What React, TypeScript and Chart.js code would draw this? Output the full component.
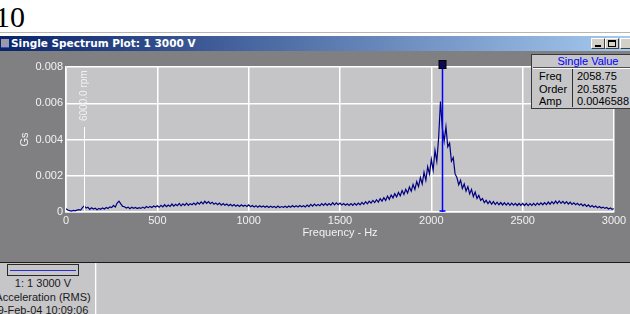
import React, { useEffect, useRef } from "react";
import { Chart, registerables } from "chart.js";

Chart.register(...registerables);

// ---- data ----
const FREQ_START = 0; // Hz, first spectral line
const FREQ_STEP = 10; // Hz between spectral lines
const AMPLITUDE: number[] = [
  0.00018, 0.00011, 0.00008, 0.00005, 0.00009, 0.00006, 0.0001, 0.00013, 0.00011, 0.00024,
  0.00034, 0.00022, 0.00026, 0.00014, 0.00023, 0.00016, 0.00021, 0.00013, 0.0002, 0.00015,
  0.00022, 0.00017, 0.00025, 0.00019, 0.00028, 0.00024, 0.00036, 0.00027, 0.00049, 0.0006,
  0.00045, 0.00031, 0.00029, 0.00022, 0.00027, 0.00018, 0.00026, 0.0002, 0.00025, 0.00019,
  0.00024, 0.0002, 0.00027, 0.00021, 0.0003, 0.00024, 0.00031, 0.00025, 0.00033, 0.00027,
  0.00034, 0.00026, 0.00037, 0.00028, 0.0004, 0.0003, 0.00039, 0.00031, 0.00044, 0.00032,
  0.00042, 0.00035, 0.00047, 0.00034, 0.00045, 0.00036, 0.00049, 0.00037, 0.00046, 0.0004,
  0.00049, 0.0004, 0.00053, 0.00043, 0.00056, 0.00045, 0.00059, 0.00047, 0.00057, 0.00046,
  0.00054, 0.00043, 0.0005, 0.0004, 0.00049, 0.00038, 0.00047, 0.00037, 0.00044, 0.00035,
  0.00042, 0.00033, 0.00041, 0.00032, 0.00039, 0.00031, 0.0004, 0.00032, 0.00038, 0.0003,
  0.00039, 0.00029, 0.00036, 0.00028, 0.00035, 0.00026, 0.00034, 0.00027, 0.00033, 0.00026,
  0.00033, 0.00025, 0.00032, 0.00026, 0.00031, 0.00024, 0.00033, 0.00025, 0.0003, 0.00026,
  0.00032, 0.00025, 0.00033, 0.00026, 0.00035, 0.00027, 0.00034, 0.00028, 0.00036, 0.00029,
  0.00035, 0.00028, 0.00038, 0.0003, 0.00042, 0.00032, 0.00044, 0.00034, 0.00041, 0.00035,
  0.00046, 0.00036, 0.00048, 0.00037, 0.00047, 0.00038, 0.00051, 0.00039, 0.0005, 0.0004,
  0.00049, 0.00039, 0.00047, 0.00037, 0.00045, 0.00036, 0.00046, 0.00037, 0.00048, 0.00038,
  0.00049, 0.0004, 0.00053, 0.00042, 0.00057, 0.00045, 0.0006, 0.00049, 0.00064, 0.00052,
  0.00068, 0.00055, 0.00074, 0.0006, 0.00079, 0.00064, 0.00088, 0.0007, 0.00094, 0.00078,
  0.00101, 0.00083, 0.00108, 0.0009, 0.00118, 0.00097, 0.00125, 0.00104, 0.00138, 0.00115,
  0.00152, 0.00125, 0.00168, 0.0014, 0.0019, 0.00155, 0.0022, 0.00175, 0.0025, 0.0021,
  0.0029, 0.0023, 0.0034, 0.0028, 0.0041, 0.0061, 0.00466, 0.0039, 0.0047, 0.0036,
  0.0038, 0.0028, 0.003, 0.0021, 0.0019, 0.0015, 0.00175, 0.0013, 0.00155, 0.00115,
  0.0014, 0.001, 0.00125, 0.00085, 0.0011, 0.00075, 0.00092, 0.00064, 0.00074, 0.00052,
  0.00064, 0.00046, 0.0006, 0.00043, 0.00057, 0.00041, 0.00054, 0.0004, 0.00052, 0.00039,
  0.00051, 0.00038, 0.0005, 0.00037, 0.00049, 0.00038, 0.00048, 0.00036, 0.00047, 0.00037,
  0.00048, 0.00036, 0.00047, 0.00035, 0.00046, 0.00036, 0.00048, 0.00037, 0.00049, 0.00039,
  0.0005, 0.0004, 0.00052, 0.00041, 0.00055, 0.00043, 0.00057, 0.00045, 0.0006, 0.00047,
  0.00061, 0.00048, 0.00059, 0.00046, 0.00057, 0.00044, 0.00054, 0.00042, 0.00051, 0.0004,
  0.00048, 0.00037, 0.00045, 0.00034, 0.00042, 0.00031, 0.00039, 0.00028, 0.00036, 0.00026,
  0.00033, 0.00024, 0.0003, 0.00022, 0.00027, 0.0002, 0.00025, 0.00017, 0.00022, 0.00015,
  0.00018,
];

const X_MIN = 0;
const X_MAX = 3000;
const X_STEP = 500;
const Y_MIN = 0;
const Y_MAX = 0.008;
const Y_STEP = 0.002;

const CURSOR_FREQ = 2058.75;
const CURSOR_ORDER = "20.5875";
const CURSOR_AMP = "0.0046588";
const RPM_FREQ = 100;
const RPM_LABEL = "6000.0 rpm";

const WINDOW_TITLE = "Single Spectrum Plot: 1 3000 V";
const X_TITLE = "Frequency - Hz";
const Y_TITLE = "Gs";
const LEGEND_LINES = ["1: 1 3000 V", "Acceleration (RMS)", "9-Feb-04 10:09:06"];
const PAGE_NUMBER = "10";

// ---- styles ----
const FONT = '"Liberation Sans", Arial, sans-serif';
const PANEL_GRAY = "#807f82";
const PLOT_BG = "#c5c4c7";
const LIGHT_PANEL = "#c6c5c8";
const LINE_COLOR = "#000080";
const TEXT_LIGHT = "#f2f2f2";

const overlayPlugin = {
  id: "spectrumOverlay",
  beforeDraw(chart: any) {
    const { ctx, chartArea: a } = chart;
    ctx.save();
    ctx.fillStyle = PLOT_BG;
    ctx.fillRect(a.left, a.top, a.right - a.left, a.bottom - a.top);
    ctx.restore();
  },
  afterDatasetsDraw(chart: any) {
    const { ctx, chartArea: a, scales } = chart;
    // rpm marker
    const rx = Math.round(scales.x.getPixelForValue(RPM_FREQ)) + 0.5;
    ctx.save();
    ctx.strokeStyle = "#ffffff";
    ctx.lineWidth = 1;
    ctx.beginPath();
    ctx.moveTo(rx, a.top + 60);
    ctx.lineTo(rx, a.bottom);
    ctx.stroke();
    ctx.translate(rx, a.top + 54);
    ctx.rotate(-Math.PI / 2);
    ctx.fillStyle = TEXT_LIGHT;
    ctx.font = `10px ${FONT}`;
    ctx.textAlign = "left";
    ctx.textBaseline = "middle";
    ctx.fillText(RPM_LABEL, 0, 0);
    ctx.restore();

    // cursor
    const cx = Math.round(scales.x.getPixelForValue(CURSOR_FREQ)) + 0.5;
    ctx.save();
    ctx.strokeStyle = "#0000ff";
    ctx.lineWidth = 1.5;
    ctx.beginPath();
    ctx.moveTo(cx, a.top - 2);
    ctx.lineTo(cx, a.bottom);
    ctx.stroke();
    ctx.beginPath();
    ctx.moveTo(cx - 3, a.bottom - 1);
    ctx.lineTo(cx + 3, a.bottom - 1);
    ctx.stroke();
    ctx.fillStyle = "#0a0a55";
    ctx.strokeStyle = "#000000";
    ctx.lineWidth = 1;
    ctx.fillRect(cx - 3.5, a.top - 6.5, 7, 8);
    ctx.strokeRect(cx - 3.5, a.top - 6.5, 7, 8);
    ctx.restore();
  },
};

export default function App() {
  const canvasRef = useRef<HTMLCanvasElement>(null);

  useEffect(() => {
    const points = AMPLITUDE.map((v, i) => ({ x: FREQ_START + i * FREQ_STEP, y: v }));
    const tickFont = { family: FONT, size: 11 };
    const chart = new Chart(canvasRef.current as HTMLCanvasElement, {
      type: "line",
      data: {
        datasets: [
          {
            data: points,
            borderColor: LINE_COLOR,
            borderWidth: 1.2,
            pointRadius: 0,
            fill: false,
            tension: 0,
          },
        ],
      },
      options: {
        responsive: false,
        animation: false,
        layout: { padding: { top: 16, right: 16, left: 0, bottom: 0 } },
        plugins: { legend: { display: false }, tooltip: { enabled: false } },
        scales: {
          x: {
            type: "linear",
            min: X_MIN,
            max: X_MAX,
            ticks: {
              stepSize: X_STEP,
              color: TEXT_LIGHT,
              font: tickFont,
              padding: 2,
              maxRotation: 0,
              autoSkip: false,
              callback: (v: any) => String(v),
            },
            grid: { color: "#ffffff", lineWidth: 1.5, drawTicks: false },
            border: { color: "#ffffff", width: 1.5 },
            title: {
              display: true,
              text: X_TITLE,
              color: TEXT_LIGHT,
              font: tickFont,
              padding: { top: 0, bottom: 22 },
            },
            afterFit(scale: any) {
              scale.height = 50;
            },
          },
          y: {
            type: "linear",
            min: Y_MIN,
            max: Y_MAX,
            ticks: {
              stepSize: Y_STEP,
              color: TEXT_LIGHT,
              font: tickFont,
              padding: 3,
              callback: (v: any) => (Number(v) === 0 ? "0" : Number(v).toFixed(3)),
            },
            grid: { color: "#ffffff", lineWidth: 1.5, drawTicks: false },
            border: { color: "#ffffff", width: 1.5 },
            title: {
              display: true,
              text: Y_TITLE,
              color: TEXT_LIGHT,
              font: tickFont,
              padding: { top: 18, bottom: 0 },
            },
            afterFit(scale: any) {
              scale.width = 66;
            },
          },
        },
      } as any,
      plugins: [overlayPlugin],
    });
    return () => chart.destroy();
  }, []);

  const btn = (left: number, content: React.ReactNode) => (
    <div
      style={{
        position: "absolute",
        left,
        top: 38,
        width: 14,
        height: 11,
        background: "#d4d0c8",
        borderTop: "1px solid #ffffff",
        borderLeft: "1px solid #ffffff",
        borderRight: "1px solid #404040",
        borderBottom: "1px solid #404040",
        boxSizing: "border-box",
      }}
    >
      {content}
    </div>
  );

  return (
    <div
      style={{
        position: "fixed",
        left: 0,
        top: 0,
        width: 630,
        height: 314,
        overflow: "hidden",
        background: "#ffffff",
        fontFamily: FONT,
      }}
    >
      <div
        style={{
          position: "absolute",
          left: -5,
          top: 2,
          fontFamily: '"Liberation Serif", "Times New Roman", serif',
          fontSize: 30,
          lineHeight: "30px",
          color: "#000",
        }}
      >
        {PAGE_NUMBER}
      </div>
      <div style={{ position: "absolute", left: 0, top: 32, width: 630, height: 1, background: "#b8b6b0" }} />
      {/* title bar */}
      <div
        style={{
          position: "absolute",
          left: 0,
          top: 36,
          width: 630,
          height: 15,
          background: "linear-gradient(to right, #0a246a, #a6caf0)",
        }}
      >
        <div
          style={{
            position: "absolute",
            left: 1,
            top: 3,
            width: 8,
            height: 9,
            background: "#9a9aa8",
            borderBottom: "1px solid #3050c0",
            boxSizing: "border-box",
          }}
        />
        <div
          style={{
            position: "absolute",
            left: 11,
            top: 0,
            lineHeight: "15px",
            fontFamily: '"DejaVu Sans", Verdana, sans-serif',
            fontWeight: "bold",
            fontSize: 10.5,
            color: "#ffffff",
            whiteSpace: "nowrap",
          }}
        >
          {WINDOW_TITLE}
        </div>
      </div>
      {btn(591, <div style={{ position: "absolute", left: 3, top: 6, width: 6, height: 2, background: "#000" }} />)}
      {btn(605, <div style={{ position: "absolute", left: 2, top: 1, width: 8, height: 7, border: "1px solid #000", borderTop: "2px solid #000", boxSizing: "border-box" }} />)}
      {btn(620, null)}
      {/* chart panel */}
      <div style={{ position: "absolute", left: 0, top: 51, width: 630, height: 211, background: PANEL_GRAY }}>
        <canvas ref={canvasRef} width={630} height={211} style={{ display: "block", width: 630, height: 211 }} />
      </div>
      {/* single value box */}
      <div
        style={{
          position: "absolute",
          left: 531,
          top: 54,
          width: 114,
          height: 55,
          background: LIGHT_PANEL,
          border: "1px solid #3a3a3a",
          boxSizing: "border-box",
          fontSize: 11,
          color: "#000",
        }}
      >
        <div style={{ position: "absolute", left: 0, top: 0, width: 112, height: 12, lineHeight: "12px", textAlign: "center", color: "#0000ff" }}>
          Single Value
        </div>
        <div style={{ position: "absolute", left: 1, top: 12, width: 110, height: 1, background: "#505050" }} />
        <div style={{ position: "absolute", left: 1, top: 13, width: 110, height: 1, background: "#ffffff" }} />
        <div style={{ position: "absolute", left: 40, top: 14, width: 1, height: 38, background: "#303030" }} />
        {[
          ["Freq", CURSOR_FREQ.toFixed(2)],
          ["Order", CURSOR_ORDER],
          ["Amp", CURSOR_AMP],
        ].map(([label, value], i) => (
          <React.Fragment key={label}>
            <div style={{ position: "absolute", left: 7, top: 15 + i * 12.5, lineHeight: "12px" }}>{label}</div>
            <div style={{ position: "absolute", left: 45, top: 15 + i * 12.5, lineHeight: "12px" }}>{value}</div>
          </React.Fragment>
        ))}
      </div>
      {/* bottom legend panel */}
      <div style={{ position: "absolute", left: 0, top: 262, width: 630, height: 52, background: LIGHT_PANEL }}>
        <div style={{ position: "absolute", left: 0, top: 0, width: 630, height: 1, background: "#1c1c1c" }} />
        <div style={{ position: "absolute", left: 95, top: 1, width: 1, height: 51, background: "#ffffff" }} />
        <div style={{ position: "absolute", left: 96, top: 1, width: 1, height: 51, background: "#d8d8da" }} />
        <div
          style={{
            position: "absolute",
            left: 7,
            top: 2,
            width: 72,
            height: 12,
            border: "1px solid #2a2a2a",
            boxSizing: "border-box",
          }}
        >
          <div style={{ position: "absolute", left: 2, top: 5, width: 66, height: 1, background: "#2e2ecc" }} />
        </div>
        {LEGEND_LINES.map((t, i) => (
          <div
            key={t}
            style={{
              position: "absolute",
              left: -17,
              width: 120,
              top: 14 + i * 13.5,
              lineHeight: "14px",
              textAlign: "center",
              fontSize: 11,
              color: "#1a1a1a",
              whiteSpace: "nowrap",
            }}
          >
            {t}
          </div>
        ))}
      </div>
    </div>
  );
}
